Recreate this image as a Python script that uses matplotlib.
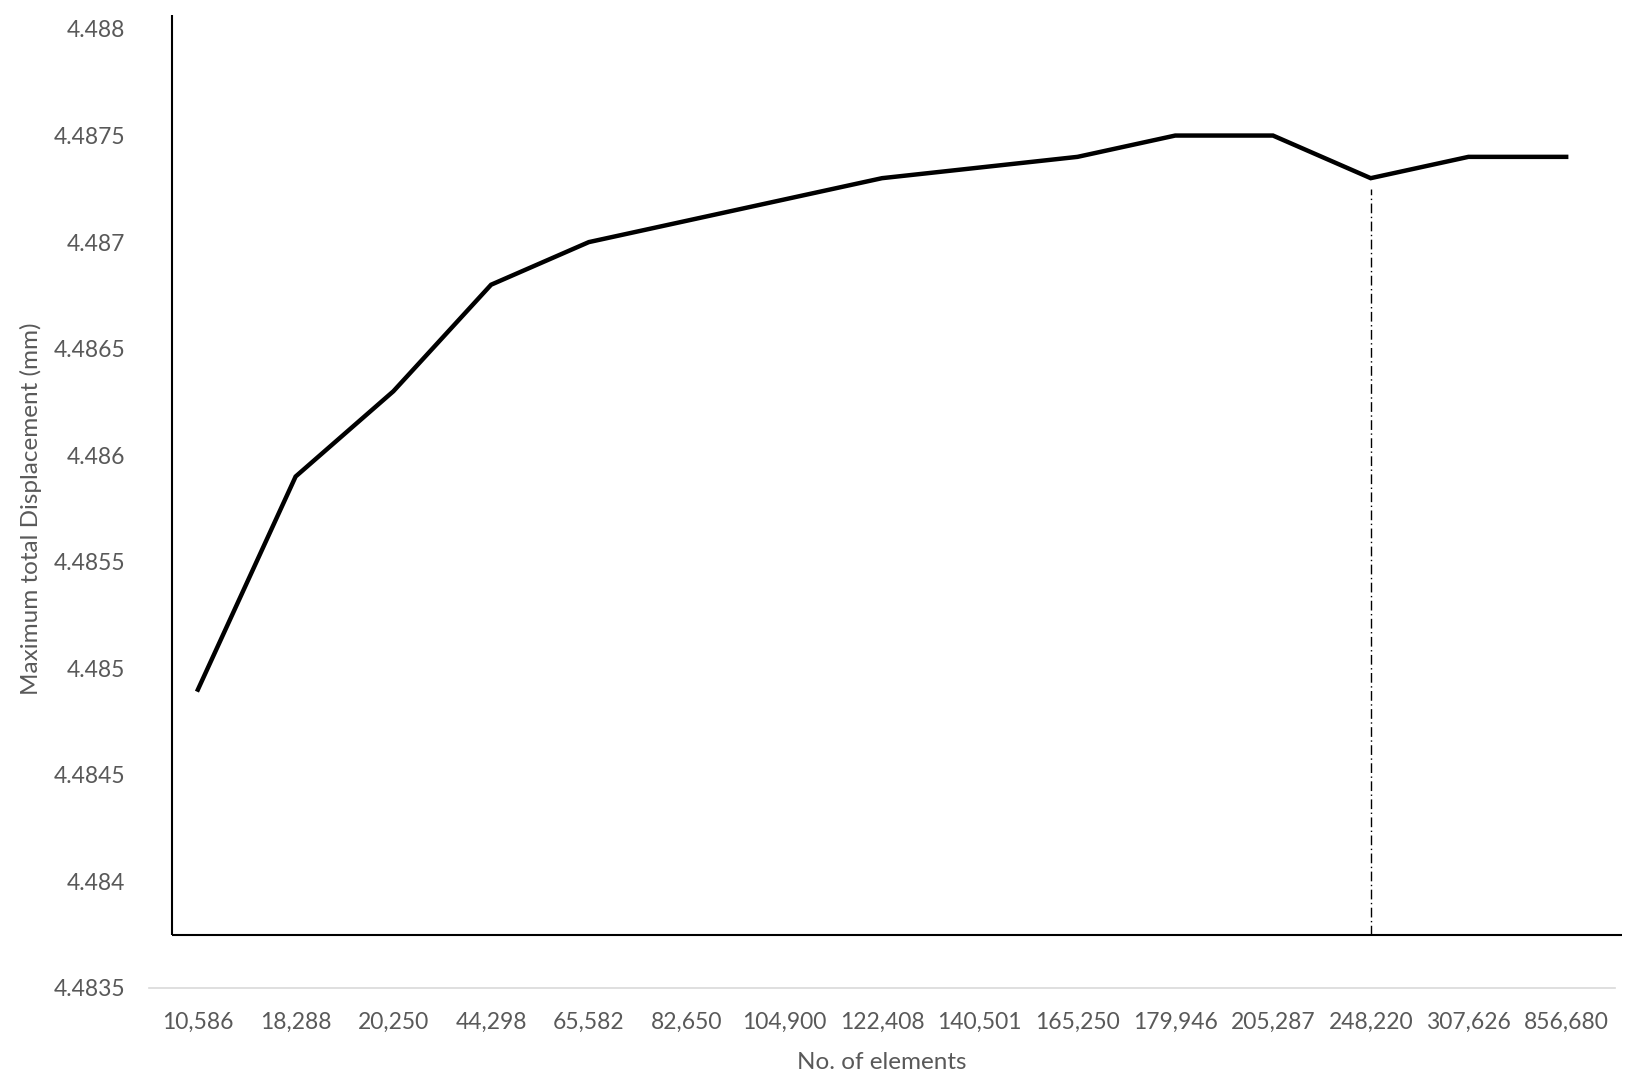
import matplotlib
matplotlib.use("Agg")
import matplotlib.pyplot as plt

# mesh convergence data
elements = ["10,586", "18,288", "20,250", "44,298", "65,582", "82,650", "104,900",
            "122,408", "140,501", "165,250", "179,946", "205,287", "248,220",
            "307,626", "856,680"]
displacement = [4.4849, 4.4859, 4.4863, 4.4868, 4.4870, 4.4871, 4.4872,
                4.4873, 4.48735, 4.4874, 4.4875, 4.4875, 4.4873, 4.4874, 4.4874]
y_ticks = [4.4835, 4.484, 4.4845, 4.485, 4.4855, 4.486, 4.4865, 4.487, 4.4875, 4.488]
y_tick_labels = ["4.4835", "4.484", "4.4845", "4.485", "4.4855", "4.486",
                 "4.4865", "4.487", "4.4875", "4.488"]
converged_idx = 12

plt.rcParams['font.family'] = ['Lato', 'DejaVu Sans']
grey = "#595959"

fig = plt.figure(figsize=(16.34, 10.82), dpi=100)
ax = fig.add_axes([0.0912, 0.0869, 0.8972, 0.8863])

x = list(range(len(elements)))
ax.plot(x, displacement, color="black", linewidth=3.2, solid_joinstyle="miter")

ax.set_xlim(-0.5, len(elements) - 0.5)
ax.set_ylim(4.4835, 4.488)
ax.set_xticks(x)
ax.set_xticklabels(elements)
ax.set_yticks(y_ticks)
ax.set_yticklabels(y_tick_labels)
ax.tick_params(axis="both", length=0, labelsize=16.5, labelcolor=grey)
ax.tick_params(axis="x", pad=17)
ax.tick_params(axis="y", pad=17)

for side in ["top", "right", "left"]:
    ax.spines[side].set_visible(False)
ax.spines["bottom"].set_color("#d9d9d9")
ax.spines["bottom"].set_linewidth(1.2)

# hand-drawn frame lines (axes fraction)
fx, fy, ftop, fright = 0.0157, 0.0553, 1.0146, 1.0048
ax.plot([fx, fx], [fy, ftop], transform=ax.transAxes, color="black",
        linewidth=1.5, clip_on=False, solid_capstyle="butt")
ax.plot([fx, fright], [fy, fy], transform=ax.transAxes, color="black",
        linewidth=1.5, clip_on=False, solid_capstyle="butt")

# dash-dot marker at converged mesh
y0, y1 = ax.get_ylim()
frame_y = y0 + fy * (y1 - y0)
ax.vlines(converged_idx, frame_y, displacement[converged_idx] - 0.00005,
          colors="black", linewidth=1.0, linestyles=[(0, (7, 2.5, 1, 2.5))])

ax.set_xlabel("No. of elements", fontsize=17.5, color=grey, labelpad=14)
ax.set_ylabel("Maximum total Displacement (mm)", fontsize=17.5, color=grey, labelpad=8.5)

fig.savefig("out.png", dpi=100)
